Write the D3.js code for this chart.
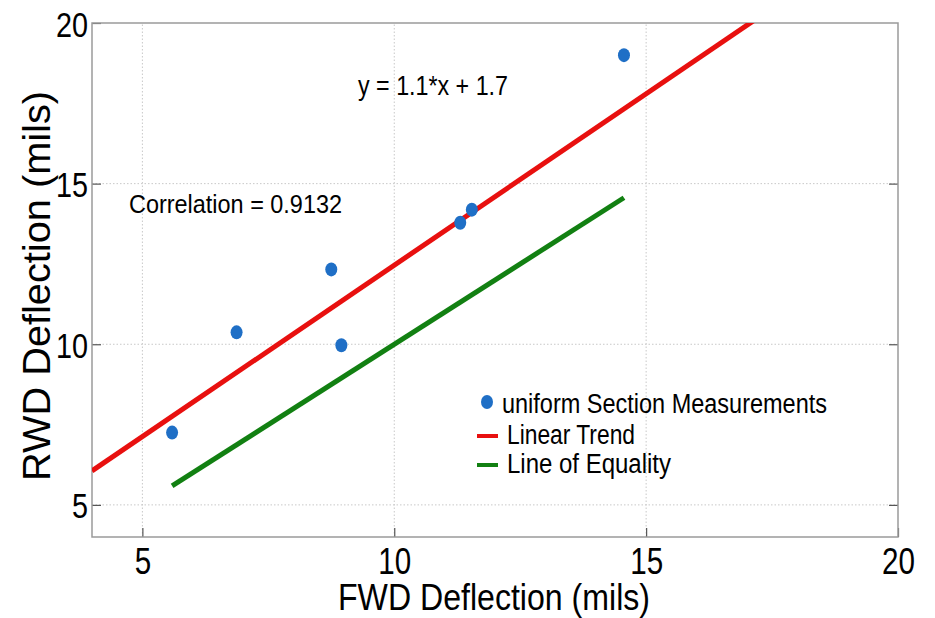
<!DOCTYPE html>
<html lang="en">
<head>
<meta charset="UTF-8">
<title>fwd-rwd-scatter</title>
<script src="https://cdn.jsdelivr.net/npm/d3@7"></script>
<style>
    body { margin: 0; background: #fff; }
    svg { display: block; font-family: "Liberation Sans", Arial, sans-serif; }
    .grid line { stroke: #c8c8c8; stroke-width: 1; stroke-dasharray: 1.5,2; }
</style>
</head>
<body>
<svg id="chart"></svg>
<script>
// data
var fwd = [5.59, 6.87, 8.75, 8.95, 11.31, 11.54, 14.56];
var rwd = [7.25, 10.37, 12.33, 9.97, 13.78, 14.19, 19.0];
var xTicks = [5, 10, 15, 20];
var yTicks = [5, 10, 15, 20];
var trend = {slope: 1.067, intercept: 1.79};   // line as drawn
var trendLabel = 'y = 1.1*x + 1.7';
var corrLabel = 'Correlation = 0.9132';
var legendLabels = ['uniform Section Measurements', 'Linear Trend', 'Line of Equality'];

var width = 935, height = 618;
var margin = {left: 92, right: 37, top: 23, bottom: 81};

var svg = d3.select('#chart').attr('width', width).attr('height', height);

var x = d3.scaleLinear().domain([4, 20]).range([margin.left, width - margin.right]);
var y = d3.scaleLinear().domain([4, 20]).range([height - margin.bottom, margin.top]);

// grid
var grid = svg.append('g').attr('class', 'grid');
grid.selectAll('.gx').data(xTicks.filter(function (d) { return d < 20; })).enter()
    .append('line')
    .attr('x1', function (d) { return x(d); }).attr('x2', function (d) { return x(d); })
    .attr('y1', y(4)).attr('y2', y(20));
grid.selectAll('.gy').data(yTicks.filter(function (d) { return d < 20; })).enter()
    .append('line')
    .attr('y1', function (d) { return y(d); }).attr('y2', function (d) { return y(d); })
    .attr('x1', x(4)).attr('x2', x(20));

// axes: ticks point inward
function styleAxis(g) {
    g.select('.domain').remove();
    g.selectAll('.tick line').attr('stroke', '#555').attr('stroke-width', 1.2);
}
var xAxis = svg.append('g')
    .attr('transform', 'translate(0,' + y(4) + ')')
    .call(d3.axisBottom(x).tickValues(xTicks).tickSize(-9).tickPadding(0).tickFormat(d3.format('d')));
styleAxis(xAxis);
xAxis.selectAll('.tick text')
    .attr('font-size', 37).attr('fill', '#000')
    .attr('y', 37).attr('dy', 0)
    .attr('transform', 'scale(0.8,1)');

var yAxis = svg.append('g')
    .attr('transform', 'translate(' + x(4) + ',0)')
    .call(d3.axisLeft(y).tickValues(yTicks).tickSize(-9).tickPadding(0).tickFormat(d3.format('d')));
styleAxis(yAxis);
yAxis.selectAll('.tick text')
    .attr('font-size', 36).attr('fill', '#000')
    .attr('x', -4 / 0.8).attr('dy', 13)
    .attr('transform', 'scale(0.8,1)');

// right side ticks
svg.append('g')
    .attr('transform', 'translate(' + x(20) + ',0)')
    .call(d3.axisRight(y).tickValues(yTicks.filter(function (d) { return d < 20; })).tickSize(-9).tickFormat(''))
    .call(styleAxis);

// box
svg.append('rect')
    .attr('x', x(4)).attr('y', y(20))
    .attr('width', x(20) - x(4)).attr('height', y(4) - y(20))
    .attr('fill', 'none').attr('stroke', '#9a9a9a').attr('stroke-width', 1.5);

// lines
svg.append('clipPath').attr('id', 'plot')
    .append('rect')
    .attr('x', x(4)).attr('y', y(20))
    .attr('width', x(20) - x(4)).attr('height', y(4) - y(20));

var line = d3.line()
    .x(function (d) { return x(d[0]); })
    .y(function (d) { return y(d[1]); });

var xMin = d3.min(fwd), xMax = d3.max(fwd);
svg.append('path')
    .datum([[4, trend.slope * 4 + trend.intercept], [20, trend.slope * 20 + trend.intercept]])
    .attr('clip-path', 'url(#plot)')
    .attr('d', line).attr('fill', 'none')
    .attr('stroke', '#e8100f').attr('stroke-width', 5);

svg.append('path')
    .datum([[xMin, xMin], [xMax, xMax]])
    .attr('d', line).attr('fill', 'none')
    .attr('stroke', '#128012').attr('stroke-width', 5);

// points
svg.append('g').selectAll('ellipse')
    .data(fwd).enter()
    .append('ellipse')
    .attr('cx', function (d) { return x(d); })
    .attr('cy', function (d, i) { return y(rwd[i]); })
    .attr('rx', 6).attr('ry', 7)
    .attr('fill', '#1f6fc6');

// annotations
svg.append('text')
    .attr('x', 358).attr('y', 95)
    .attr('font-size', 27).attr('textLength', 150).attr('lengthAdjust', 'spacingAndGlyphs')
    .attr('fill', '#000')
    .text(trendLabel);

svg.append('text')
    .attr('x', 129).attr('y', 213)
    .attr('font-size', 26).attr('textLength', 213).attr('lengthAdjust', 'spacingAndGlyphs')
    .attr('fill', '#000')
    .text(corrLabel);

// legend
var legend = svg.append('g');
legend.append('ellipse')
    .attr('cx', 487).attr('cy', 402).attr('rx', 6).attr('ry', 7).attr('fill', '#1f6fc6');
legend.append('line')
    .attr('x1', 477).attr('x2', 498).attr('y1', 436).attr('y2', 436)
    .attr('stroke', '#e8100f').attr('stroke-width', 4);
legend.append('line')
    .attr('x1', 477).attr('x2', 498).attr('y1', 465).attr('y2', 465)
    .attr('stroke', '#128012').attr('stroke-width', 4);

var legendPos = [[502, 413, 325], [507, 444, 128], [507, 473, 164]];
legend.selectAll('text')
    .data(legendLabels).enter()
    .append('text')
    .attr('x', function (d, i) { return legendPos[i][0]; })
    .attr('y', function (d, i) { return legendPos[i][1]; })
    .attr('textLength', function (d, i) { return legendPos[i][2]; })
    .attr('lengthAdjust', 'spacingAndGlyphs')
    .attr('font-size', 27).attr('fill', '#000')
    .text(function (d) { return d; });

// axis titles
svg.append('text')
    .attr('x', 494).attr('y', 610)
    .attr('text-anchor', 'middle')
    .attr('font-size', 37).attr('textLength', 312).attr('lengthAdjust', 'spacingAndGlyphs')
    .attr('fill', '#000')
    .text('FWD Deflection (mils)');

svg.append('text')
    .attr('transform', 'translate(50,286) rotate(-90)')
    .attr('text-anchor', 'middle')
    .attr('font-size', 38).attr('textLength', 390).attr('lengthAdjust', 'spacingAndGlyphs')
    .attr('fill', '#000')
    .text('RWD Deflection (mils)');
</script>
</body>
</html>
